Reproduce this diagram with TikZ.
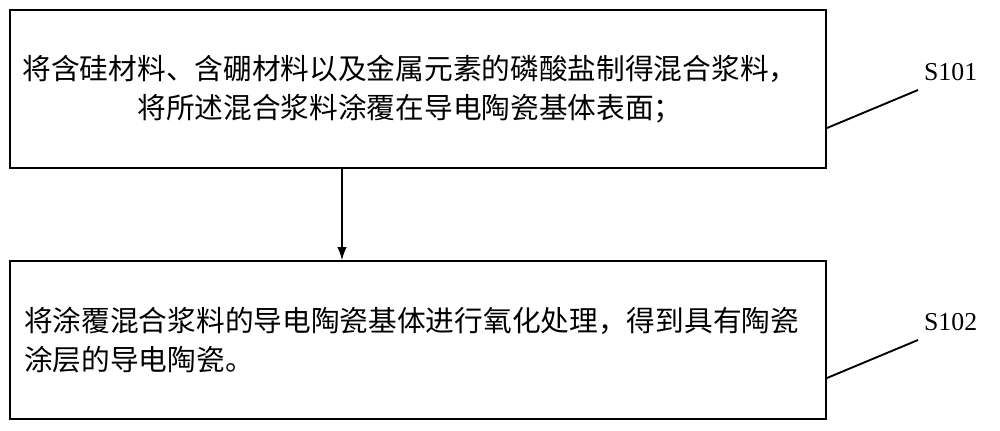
\documentclass[tikz,border=0pt]{standalone}
\usepackage{fontspec}
\setmainfont{Liberation Serif}
\newfontfamily\cjk{Noto Sans CJK SC}
\usetikzlibrary{positioning,arrows.meta}

\begin{document}
\begin{tikzpicture}[x=0.03cm,y=-0.03cm]
	    \tikzset{stepbox/.style={draw=black,line width=1pt,minimum width=24.48cm,minimum height=4.74cm,inner sep=0pt},
	             steptext/.style={font=\cjk\fontsize{24.5pt}{33pt}\selectfont}}
	    \useasboundingbox (0,0) rectangle (1000,431);
	    \node [stepbox] (box1) at (418,89) {};
	    \node [steptext,align=center] (text1) at (410,89) {将含硅材料、含硼材料以及金属元素的磷酸盐制得混合浆料，\\将所述混合浆料涂覆在导电陶瓷基体表面；};
	    \node [stepbox] (box2) at (418,340) {};
	    \node [steptext,align=left,anchor=west] (text2) at (20,340) {将涂覆混合浆料的导电陶瓷基体进行氧化处理，得到具有陶瓷\\涂层的导电陶瓷。};
	    \draw [black,line width=1pt,-{Latex[length=11pt,width=8pt]}] (342,168) -- (342,260);
	    \coordinate (c1) at (827,128);
	    \coordinate (c2) at (827,378);
	    \node [font=\fontsize{22pt}{24pt}\selectfont,anchor=west] (s1) at (920,72) {S101};
	    \node [font=\fontsize{22pt}{24pt}\selectfont,anchor=west] (s2) at (920,322) {S102};
	    \draw [black,line width=1.6pt] (c1) -- (918,90);
	    \draw [black,line width=1.6pt] (c2) -- (918,340);
    \end{tikzpicture}
\end{document}
